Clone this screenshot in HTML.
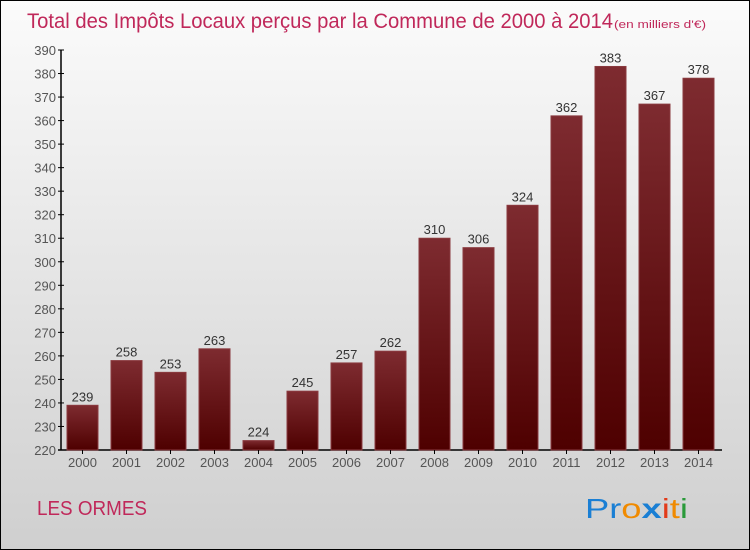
<!DOCTYPE html>
<html><head><meta charset="utf-8"><style>
body{margin:0}
#c{position:relative;width:748px;height:548px;border:1px solid #000;background:linear-gradient(#fbfbfb,#cfcfcf);font-family:"Liberation Sans",sans-serif;overflow:hidden}
</style></head><body>
<div id="c">
<svg width="748" height="548" id="s">
<defs><linearGradient id="g" x1="0" y1="0" x2="0" y2="1"><stop offset="0" stop-color="#7e2b30"/><stop offset="1" stop-color="#4e0000"/></linearGradient></defs>
<text x="26" y="27" font-size="21" fill="#c0285a" textLength="586" lengthAdjust="spacingAndGlyphs">Total des Impôts Locaux perçus par la Commune de 2000 à 2014</text>
<text x="613" y="27" font-size="11" fill="#c0285a" textLength="92" lengthAdjust="spacingAndGlyphs">(en milliers d'€)</text>
<text x="36" y="514" font-size="20" fill="#c0285a" textLength="110" lengthAdjust="spacingAndGlyphs">LES ORMES</text>
<text x="584" y="517" font-size="28" textLength="103" lengthAdjust="spacingAndGlyphs"><tspan fill="#1a7fd4">Pr</tspan><tspan fill="#f08a00">o</tspan><tspan fill="#1a7fd4" font-weight="bold">x</tspan><tspan fill="#e23b1a">i</tspan><tspan fill="#f08a00">t</tspan><tspan fill="#2a9a3a">i</tspan></text>
<g id="plot"></g>
</svg>
</div>
<script>
const years=["2000","2001","2002","2003","2004","2005","2006","2007","2008","2009","2010","2011","2012","2013","2014"];
const values=[239,258,253,263,224,245,257,262,310,306,324,362,383,367,378];
const yTicks=[220,230,240,250,260,270,280,290,300,310,320,330,340,350,360,370,380,390];
const NS="http://www.w3.org/2000/svg",g=document.getElementById('plot');
const y=v=>449-(v-220)*(400/170);
const x=i=>81.5+i*44;
function mk(t,a,txt){const e=document.createElementNS(NS,t);for(const k in a)e.setAttribute(k,a[k]);if(txt!=null)e.textContent=txt;g.appendChild(e);return e;}
const ax=mk('line',{x1:60,y1:y(390),x2:60,y2:449,stroke:'#000','stroke-width':1.5});


const bx=mk('line',{x1:57,y1:449,x2:721,y2:449,stroke:'#000','stroke-width':1.5});


yTicks.forEach(v=>{
 mk('line',{x1:57,y1:y(v),x2:63,y2:y(v),stroke:'#000'});
 const t=mk('text',{x:55,y:y(v)+5,'text-anchor':'end','font-size':13,fill:'#555'},v);
 
 
});
values.forEach((v,i)=>{
 const r=mk('rect',{x:x(i)-15.5,y:y(v),width:31,height:449-y(v),fill:'url(#g)',stroke:'#8a3a3f','stroke-width':1});
 
 
 const l=mk('text',{x:x(i),y:y(v)-4,'text-anchor':'middle','font-size':13,fill:'#333'},v);
 
 
 mk('line',{x1:x(i),y1:449,x2:x(i),y2:453,stroke:'#000'});
 const xl=mk('text',{x:x(i),y:466,'text-anchor':'middle','font-size':13,fill:'#555'},years[i]);
 
 
});
</script>
</body></html>
